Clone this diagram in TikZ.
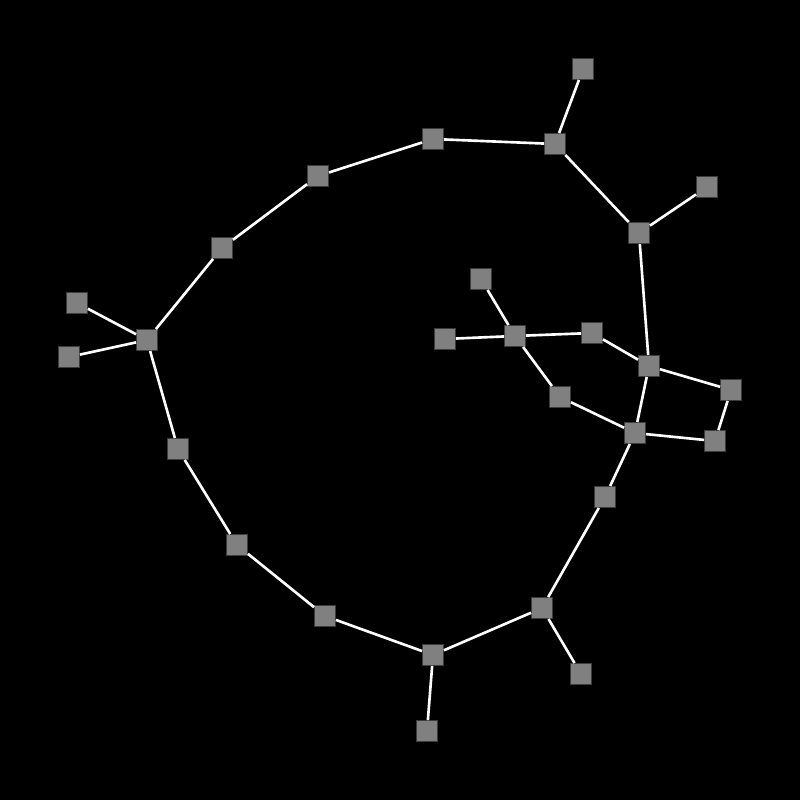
\documentclass[tikz,border=0pt]{standalone}
\usepackage{xcolor}
\usepackage{tikz}
\definecolor{nodegray}{RGB}{128,128,128}
\definecolor{nodeedge}{RGB}{60,60,60}

\tikzset{
  vertex/.style={draw=nodeedge, fill=nodegray, line width=0.25pt,
                 minimum width=0.21cm, minimum height=0.21cm, inner sep=0pt},
  link/.style={draw=white, line width=0.75pt}
}

\begin{document}
\begin{tikzpicture}
        \fill[black] (0,0) rectangle (8,-8);
        \useasboundingbox (0,0) rectangle (8,-8);
        % outer ring
        \node[vertex] (top)   at (5.83,-0.69) {};
        \node[vertex] (nA)    at (5.55,-1.44) {};
        \node[vertex] (nB)    at (4.33,-1.39) {};
        \node[vertex] (nC)    at (3.18,-1.76) {};
        \node[vertex] (nD)    at (2.22,-2.48) {};
        \node[vertex] (hub)   at (1.47,-3.40) {};
        \node[vertex] (leafa) at (0.77,-3.03) {};
        \node[vertex] (leafb) at (0.69,-3.57) {};
        \node[vertex] (nE)    at (1.78,-4.49) {};
        \node[vertex] (nF)    at (2.37,-5.45) {};
        \node[vertex] (nG)    at (3.25,-6.16) {};
        \node[vertex] (nH)    at (4.33,-6.55) {};
        \node[vertex] (bot)   at (4.27,-7.31) {};
        \node[vertex] (nI)    at (5.42,-6.08) {};
        \node[vertex] (leafc) at (5.81,-6.74) {};
        \node[vertex] (nJ)    at (6.05,-4.97) {};
        \node[vertex] (nK)    at (6.35,-4.33) {};
        \node[vertex] (nL)    at (6.49,-3.66) {};
        \node[vertex] (nM)    at (6.39,-2.33) {};
        \node[vertex] (leafd) at (7.07,-1.87) {};
        \node[vertex] (nN)    at (7.31,-3.90) {};
        \node[vertex] (nO)    at (7.15,-4.41) {};
        % inner star
        \node[vertex] (nP)    at (5.92,-3.33) {};
        \node[vertex] (star)  at (5.15,-3.36) {};
        \node[vertex] (leafe) at (4.45,-3.39) {};
        \node[vertex] (leaff) at (4.81,-2.79) {};
        \node[vertex] (nQ)    at (5.60,-3.97) {};

        \draw[link] (top) -- (nA) -- (nB) -- (nC) -- (nD) -- (hub);
        \draw[link] (hub) -- (leafa);
        \draw[link] (hub) -- (leafb);
        \draw[link] (hub) -- (nE) -- (nF) -- (nG) -- (nH) -- (nI) -- (nJ) -- (nK) -- (nL);
        \draw[link] (nH) -- (bot);
        \draw[link] (nI) -- (leafc);
        \draw[link] (nA) -- (nM) -- (nL);
        \draw[link] (nM) -- (leafd);
        \draw[link] (nL) -- (nN) -- (nO) -- (nK);
        \draw[link] (nK) -- (nQ) -- (star);
        \draw[link] (nL) -- (nP) -- (star);
        \draw[link] (star) -- (leafe);
        \draw[link] (star) -- (leaff);
    \end{tikzpicture}
\end{document}
